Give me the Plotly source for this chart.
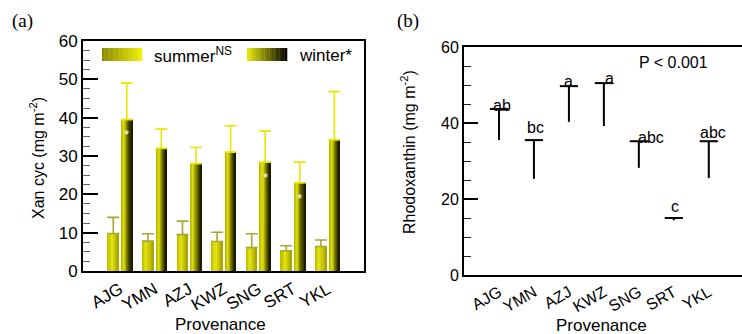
import plotly.graph_objects as go

# ---------------- data ----------------
provenances = ["AJG", "YMN", "AZJ", "KWZ", "SNG", "SRT", "YKL"]
summer_mean = [9.8, 7.8, 9.5, 7.7, 6.1, 5.3, 6.4]
summer_err = [4.2, 1.9, 3.5, 2.4, 3.6, 1.3, 1.7]
winter_mean = [39.5, 32.0, 28.0, 31.0, 28.4, 23.0, 34.2]
winter_err = [9.5, 5.0, 4.2, 6.9, 8.1, 5.4, 12.6]
winter_stars = ["*", "", "", "", "*", "*", ""]
rhodo_mean = [43.7, 35.5, 49.7, 50.5, 35.2, 15.0, 35.2]
rhodo_err_minus = [8.2, 10.2, 9.4, 11.3, 7.0, 0.6, 9.7]
rhodo_letters = ["ab", "bc", "a", "a", "abc", "c", "abc"]
y_ticks_a = [0, 10, 20, 30, 40, 50, 60]
y_ticks_b = [0, 20, 40, 60]

# ---------------- style ----------------
W, H = 742, 334
FONT = "Liberation Sans, Arial, sans-serif"
FS = 16
xs = list(range(len(provenances)))

def px(x):
    return x / W

def py(y):
    return 1 - y / H

def grad(stops, t):
    for (t0, c0), (t1, c1) in zip(stops[:-1], stops[1:]):
        if t0 <= t <= t1:
            f = (t - t0) / (t1 - t0) if t1 > t0 else 0
            c = [round(a + (b - a) * f) for a, b in zip(c0, c1)]
            return "rgb(%d,%d,%d)" % tuple(c)
    return "rgb(%d,%d,%d)" % tuple(stops[-1][1])

summer_stops = [(0, (186, 186, 0)), (0.4, (230, 230, 16)), (1.0, (160, 160, 0))]
winter_stops = [(0, (178, 178, 0)), (0.3, (226, 226, 12)), (0.62, (112, 112, 0)), (1.0, (14, 14, 0))]
summer_leg_stops = [(0, (138, 138, 0)), (1.0, (240, 240, 10))]
winter_leg_stops = [(0, (236, 236, 10)), (1.0, (0, 0, 0))]

NS = 10
fig = go.Figure()

def gradient_bars(vals, errs, off, wid, stops, errcolor):
    for k in range(NS):
        fig.add_trace(go.Bar(
            x=xs, y=vals, width=wid / NS, offset=off + k * wid / NS,
            marker=dict(color=grad(stops, (k + 0.5) / NS), line=dict(width=0)),
            showlegend=False, hoverinfo="skip", xaxis="x", yaxis="y"))
    fig.add_trace(go.Bar(
        x=xs, y=vals, width=wid, offset=off,
        marker=dict(color="rgba(0,0,0,0)", line=dict(width=0)),
        error_y=dict(type="data", symmetric=False, array=errs,
                     arrayminus=[0] * len(errs), color=errcolor,
                     thickness=1.6, width=6),
        showlegend=False, xaxis="x", yaxis="y"))

gradient_bars(summer_mean, summer_err, -0.35, 0.31, summer_stops, "#a6a632")
gradient_bars(winter_mean, winter_err, 0.04, 0.31, winter_stops, "#e6e600")

# stars on winter bars
for i, s in enumerate(winter_stars):
    if s:
        fig.add_annotation(x=i + 0.19, y=winter_mean[i] - 4, xref="x", yref="y",
                           text=s, showarrow=False, xanchor="center", yanchor="middle",
                           font=dict(color="white", size=13, family=FONT))

# panel b
fig.add_trace(go.Scatter(
    x=xs, y=rhodo_mean, mode="markers",
    marker=dict(symbol="line-ew", size=13, color="black",
                line=dict(width=2, color="black")),
    error_y=dict(type="data", symmetric=False, array=[0] * len(xs),
                 arrayminus=rhodo_err_minus, color="black",
                 thickness=2, width=0),
    showlegend=False, xaxis="x2", yaxis="y2"))

letter_dx = [0.1, 0.05, 0.0, 0.17, 0.35, 0.03, 0.12]
letter_dy = [0.8, 3.4, 1.3, 1.3, 1.0, 2.9, 2.4]
for i, t in enumerate(rhodo_letters):
    fig.add_annotation(x=i + letter_dx[i], y=rhodo_mean[i] + letter_dy[i],
                       xref="x2", yref="y2", text=t, showarrow=False,
                       xanchor="center", yanchor="middle",
                       font=dict(size=FS, family=FONT, color="black"))
fig.add_annotation(x=5.0, y=56, xref="x2", yref="y2", text="P < 0.001",
                   showarrow=False, xanchor="center", yanchor="middle",
                   font=dict(size=FS, family=FONT, color="black"))

# legend (panel a), drawn manually
def swatch(x0, x1, y0, y1, stops):
    n = 16
    for k in range(n):
        fig.add_shape(type="rect", xref="paper", yref="paper",
                      x0=px(x0 + (x1 - x0) * k / n), x1=px(x0 + (x1 - x0) * (k + 1) / n + 0.3),
                      y0=py(y1), y1=py(y0), line=dict(width=0),
                      fillcolor=grad(stops, (k + 0.5) / n), layer="above")

swatch(102, 142, 48, 61, summer_leg_stops)
swatch(247, 287, 48, 61, winter_leg_stops)
fig.add_annotation(x=px(152), y=py(55), xref="paper", yref="paper",
                   text="summer<sup>NS</sup>", showarrow=False, xanchor="left",
                   yanchor="middle", font=dict(size=FS + 1, family=FONT, color="black"))
fig.add_annotation(x=px(297), y=py(55), xref="paper", yref="paper",
                   text="winter*", showarrow=False, xanchor="left",
                   yanchor="middle", font=dict(size=FS + 1, family=FONT, color="black"))

def paper_text(x, y, text, size, family=FONT, angle=0):
    fig.add_annotation(x=px(x), y=py(y), xref="paper", yref="paper", text=text,
                       showarrow=False, xanchor="center", yanchor="middle",
                       textangle=angle, font=dict(size=size, family=family, color="black"))

# panel labels and axis titles
paper_text(22, 21, "(a)", 19, "Liberation Serif, serif")
paper_text(408, 21, "(b)", 19, "Liberation Serif, serif")
paper_text(37, 158, "Xan cyc (mg m<sup>-2</sup>)", FS, angle=-90)
paper_text(408, 152, "Rhodoxanthin (mg m<sup>-2</sup>)", FS, angle=-90)
paper_text(220, 324, "Provenance", FS + 1)
paper_text(601, 325, "Provenance", FS + 1)

axis_common = dict(showline=True, linecolor="black", linewidth=1.8, mirror=True,
                   showgrid=False, zeroline=False, automargin=False)

fig.update_layout(
    width=W, height=H, margin=dict(l=0, r=0, t=0, b=0, pad=0, autoexpand=False),
    paper_bgcolor="white", plot_bgcolor="white", barmode="overlay",
    font=dict(family=FONT, size=FS, color="black"),
    xaxis=dict(domain=[px(83), px(364)], range=[-1.07, 7.05], tickmode="array",
               tickvals=xs, ticktext=provenances, ticks="", tickangle=-30,
               tickfont=dict(size=FS + 1), anchor="y", **axis_common),
    yaxis=dict(domain=[py(271), py(41)], range=[0, 60], tickmode="array",
               tickvals=y_ticks_a, ticks="inside", ticklen=15, tickwidth=1.6,
               tickcolor="black", tickfont=dict(size=FS + 1), anchor="x",
               minor=dict(ticks="inside", ticklen=7, dtick=2.5, tickwidth=1.3,
                          tickcolor="#666"),
               **axis_common),
    xaxis2=dict(domain=[px(464), 1.0], range=[-1.0, 6.95], tickmode="array",
                tickvals=xs, ticktext=provenances, ticks="", tickangle=-30,
                tickfont=dict(size=FS), anchor="y2", **axis_common),
    yaxis2=dict(domain=[py(275), py(47)], range=[0, 60], tickmode="array",
                tickvals=y_ticks_b, ticks="inside", ticklen=14, tickwidth=1.6,
                tickcolor="black", tickfont=dict(size=FS), anchor="x2",
                minor=dict(ticks="inside", ticklen=7, dtick=5, tickwidth=1.3,
                           tickcolor="#222"),
                **axis_common),
)

fig.write_html("out.html", config={"displayModeBar": False},
               post_script="document.body.style.margin='0px';document.body.style.overflow='hidden';")
